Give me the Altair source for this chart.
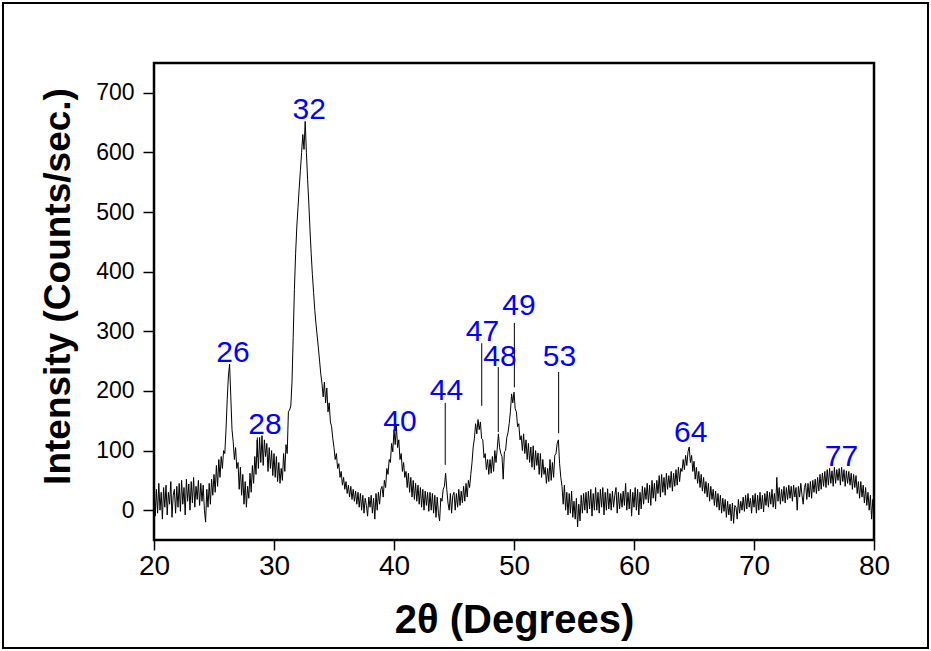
import altair as alt
import pandas as pd

# ---- XRD trace: intensity read every 0.1 degree from 20.0 to 80.0 ----
theta_start = 20.0
theta_step = 0.1
intensity = [
    40, -10, 35, -5, 45, 0, 30, -15, 38, 5,          # 20
    42, -8, 30, 10, 48, -12, 25, 35, -5, 40,         # 21
    5, 45, -2, 50, 10, 38, -8, 52, 15, 44,           # 22
    0, 48, 12, 55, 5, 40, 18, 50, 8, 45,             # 23
    15, 42, 0, -20, 35, 5, 45, 10, 52, 25,           # 24
    60, 30, 75, 40, 85, 55, 90, 70, 100, 95,         # 25
    135, 185, 225, 245, 190, 135, 115, 85, 105, 70,  # 26
    80, 35, 72, 25, 60, 10, 48, 5, 40, 20,           # 27
    62, 30, 75, 45, 90, 60, 118, 70, 122, 80,        # 28
    125, 75, 118, 90, 112, 65, 105, 70, 100, 58,     # 29
    95, 55, 90, 48, 80, 45, 70, 50, 95, 65,          # 30
    110, 95, 165, 168, 175, 215, 290, 370, 430, 475, # 31
    508, 540, 570, 600, 630, 605, 652, 600, 555, 515,  # 32
    470, 430, 395, 365, 335, 312, 292, 272, 250, 228,  # 33
    212, 190, 215, 180, 205, 165, 180, 148, 140, 120,  # 34
    105, 85, 95, 70, 78, 55, 65, 42, 55, 35,         # 35
    48, 28, 42, 22, 40, 18, 35, 15, 32, 10,          # 36
    30, 5, 28, 0, 25, -5, 20, 8, -10, 22,            # 37
    5, 25, -5, 20, -15, 28, 0, 30, 10, 35,           # 38
    40, 22, 50, 38, 70, 60, 85, 80, 112, 98,         # 39
    135, 110, 142, 105, 118, 85, 95, 65, 80, 55,     # 40
    65, 38, 62, 30, 55, 22, 50, 18, 45, 15,          # 41
    42, 10, 38, 5, 35, 0, 32, 8, 30, -2,             # 42
    30, 0, 28, -5, 25, -12, 22, -5, -18, 20,         # 43
    15, 35, 40, 62, 35, 12, 0, 28, -5, 25,           # 44
    30, 0, 28, 5, 35, 8, 32, 12, 40, 15,             # 45
    45, 22, 50, 38, 60, 80, 106, 120, 145, 128,      # 46
    152, 135, 148, 120, 118, 88, 95, 68, 85, 60,     # 47
    85, 62, 90, 65, 100, 80, 102, 128, 105, 95,      # 48
    90, 52, 98, 100, 122, 130, 145, 165, 195, 180,   # 49
    198, 170, 165, 140, 145, 118, 125, 100, 128, 95, # 50
    118, 85, 112, 80, 106, 72, 108, 68, 100, 75,     # 51
    96, 60, 95, 55, 85, 60, 72, 45, 70, 48,          # 52
    85, 50, 80, 55, 92, 95, 112, 118, 78, 55,        # 53
    40, 10, 42, 0, 30, -8, 28, -5, 32, -12,          # 54
    15, -15, 20, -28, 10, -18, 25, -5, 28, 0,        # 55
    30, -5, 32, 2, 35, -10, 28, 0, 38, 0,            # 56
    30, -5, 35, 5, 38, -8, 30, 0, 36, 2,             # 57
    28, 0, 32, 5, 25, 38, -5, 30, 2, 28,             # 58
    5, 32, 8, 45, 0, 30, 2, 35, -10, 30,             # 59
    5, 38, 0, 35, -8, 30, 2, 40, 10, 38,             # 60
    18, 45, 12, 42, 8, 50, 20, 45, 15, 50,           # 61
    28, 58, 22, 60, 30, 55, 25, 62, 35, 58,          # 62
    38, 65, 32, 62, 40, 68, 42, 72, 48, 70,          # 63
    65, 85, 68, 92, 75, 98, 106, 80, 92, 65,         # 64
    82, 52, 72, 45, 65, 38, 60, 32, 55, 28,          # 65
    48, 22, 45, 15, 40, 18, 35, 8, 32, 5,            # 66
    28, 0, 25, -5, 20, -2, 18, -12, 15, -8,          # 67
    10, -18, 12, -22, 8, 5, -15, 18, -5, 15,         # 68
    0, 22, -2, 25, 2, 28, 5, 20, -5, 25,             # 69
    5, 28, -5, 25, 0, 30, 2, 25, -3, 28,             # 70
    8, 32, 5, 30, 10, 35, 5, 28, 2, 55,              # 71
    15, 38, 10, 35, 15, 40, 12, 38, 18, 42,          # 72
    20, 40, 15, 42, 22, 38, 0, 40, 22, 45,           # 73
    25, 10, 38, 45, 18, 45, 22, 48, 20, 50,          # 74
    30, 52, 28, 55, 32, 60, 35, 62, 40, 65,          # 75
    38, 68, 42, 70, 45, 66, 40, 72, 45, 68,          # 76
    50, 70, 42, 72, 48, 68, 40, 66, 45, 65,          # 77
    42, 62, 35, 60, 38, 58, 28, 48, 20, 48,          # 78
    22, 42, 12, 38, 8, 30, 0, 25, -15, 18,           # 79
    5,                                               # 80
]
two_theta = [round(theta_start + i * theta_step, 1) for i in range(len(intensity))]

# ---- peak labels (blue) ----
label_text = ["26", "28", "32", "40", "44", "47", "48", "49", "53", "64", "77"]
label_x = [26.58, 29.25, 32.94, 40.5, 44.38, 47.38, 48.83, 50.42, 53.79, 64.72, 77.29]
label_y = [263, 143, 671, 148, 200, 299, 257, 342, 257, 129, 89]

# ---- thin marker lines below some labels ----
marker_x = [28.61, 44.27, 47.31, 48.69, 50.03, 53.72]
marker_top = [122, 180, 280, 240, 314, 232]
marker_bottom = [89, 76, 175, 131, 206, 129]

x_ticks = [20, 30, 40, 50, 60, 70, 80]
y_ticks = [0, 100, 200, 300, 400, 500, 600, 700]

FONT = "Liberation Sans"

trace_df = pd.DataFrame({"two_theta": two_theta, "intensity": intensity})
labels_df = pd.DataFrame({"text": label_text, "x": label_x, "y": label_y})
markers_df = pd.DataFrame({"x": marker_x, "y1": marker_top, "y2": marker_bottom})

x_scale = alt.Scale(domain=[20, 80], nice=False, zero=False)
y_scale = alt.Scale(domain=[-50, 750], nice=False, zero=False)

x_axis = alt.Axis(
    values=x_ticks, title="2θ (Degrees)", grid=False, domain=False, labelFlush=False,
    tickSize=10, tickWidth=1.5, tickColor="black",
    labelFont=FONT, labelFontSize=28, labelColor="black", labelPadding=2,
    titleFont=FONT, titleFontSize=40, titleFontWeight="bold", titleColor="black",
    titleX=360, titleY=80, titleBaseline="middle", titleAlign="center",
)
y_axis = alt.Axis(
    values=y_ticks, title="Intensity (Counts/sec.)", grid=False, domain=False, labelFlush=False,
    tickSize=11, tickWidth=1.5, tickColor="black",
    labelFont=FONT, labelFontSize=23, labelColor="black", labelPadding=9,
    titleFont=FONT, titleFontSize=37, titleFontWeight="bold", titleColor="black",
    titleX=-96, titleY=223, titleBaseline="middle", titleAlign="center", titleAngle=-90,
)

trace = alt.Chart(trace_df).mark_line(color="black", strokeWidth=1, clip=True).encode(
    x=alt.X("two_theta:Q", scale=x_scale, axis=x_axis),
    y=alt.Y("intensity:Q", scale=y_scale, axis=y_axis),
)

markers = alt.Chart(markers_df).mark_rule(color="black", strokeWidth=1).encode(
    x=alt.X("x:Q", scale=x_scale),
    y=alt.Y("y1:Q", scale=y_scale),
    y2="y2:Q",
)

labels = alt.Chart(labels_df).mark_text(
    font=FONT, fontSize=30, color="#0000FF", align="center", baseline="middle"
).encode(
    x=alt.X("x:Q", scale=x_scale),
    y=alt.Y("y:Q", scale=y_scale),
    text="text:N",
)

# outer picture frame (decoration around the whole figure)
frame = alt.Chart(pd.DataFrame({"a": [0]})).mark_rect(
    fill=None, stroke="black", strokeWidth=2
).encode(
    x=alt.value(-151), x2=alt.value(774), y=alt.value(-60), y2=alt.value(585)
)

chart = alt.layer(frame, trace, markers, labels).properties(
    width=720, height=477,
    autosize=alt.AutoSizeParams(type="none"),
    padding={"left": 154, "top": 63, "right": 57, "bottom": 111},
    background="white",
).configure_view(
    stroke="black", strokeWidth=2.5
)

chart.save("out.html", embed_options={"renderer": "svg", "actions": False})
